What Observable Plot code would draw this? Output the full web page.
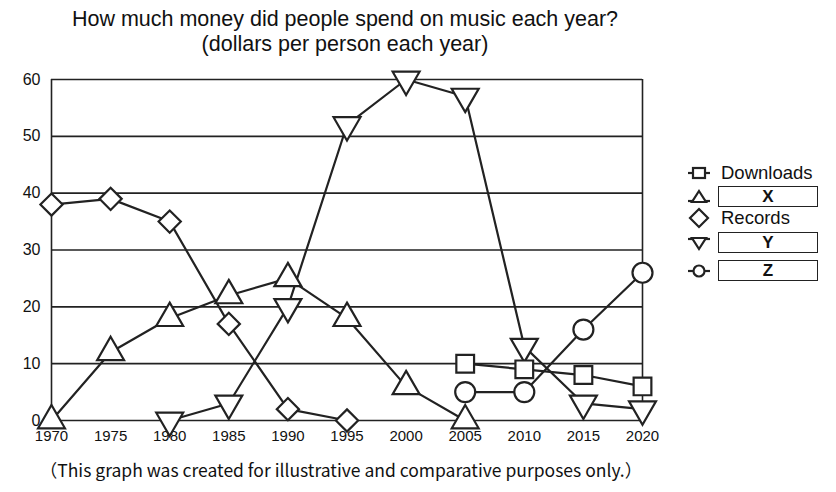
<!DOCTYPE html>
<html><head><meta charset="utf-8">
<script src="https://cdn.jsdelivr.net/npm/d3@7"></script>
<script src="https://cdn.jsdelivr.net/npm/@observablehq/plot@0.6"></script>
<style>
body{margin:0;background:#fff;font-family:"Liberation Sans",Arial,sans-serif;color:#111;}
#wrap{position:relative;width:836px;height:492px;overflow:hidden;}
#title{position:absolute;left:0;width:690px;top:7px;text-align:center;font-size:21.5px;line-height:25px;}
#chart{position:absolute;left:0;top:62px;}
#legend{position:absolute;left:686px;top:0;width:150px;height:300px;}
.lrow{position:absolute;left:0;height:22px;display:flex;align-items:center;}
.lrow svg{width:26px;height:22px;flex:none;}
.lbl{font-size:18.5px;margin-left:9px;}
.box{position:absolute;left:32px;width:98px;height:19px;border:1.6px solid #222;text-align:center;font-size:17px;line-height:19px;font-weight:bold;}
#caption{position:absolute;left:0;width:682px;top:457px;text-align:center;font-family:"Noto Sans CJK JP",sans-serif;font-size:17.5px;}
</style></head>
<body>
<div id="wrap">
  <div id="title">How much money did people spend on music each year?<br>(dollars per person each year)</div>
  <div id="chart"></div>
  <div id="legend"></div>
  <div id="caption">（This graph was created for illustrative and comparative purposes only.）</div>
</div>
<script>
const xTicks = [1970,1975,1980,1985,1990,1995,2000,2005,2010,2015,2020];
const yTicks = [0,10,20,30,40,50,60];

const seriesNames = ["Downloads","X","Records","Y","Z"];
const recordsYears = [1970,1975,1980,1985,1990,1995];
const recordsValues = [38,39,35,17,2,0];
const xYears = [1970,1975,1980,1985,1990,1995,2000,2005];
const xValues = [0,12,18,22,25,18,6,0];
const yYears = [1980,1985,1990,1995,2000,2005,2010,2015,2020];
const yValues = [0,3,20,52,60,57,13,3,2];
const downloadsYears = [2005,2010,2015,2020];
const downloadsValues = [10,9,8,6];
const zYears = [2005,2010,2015,2020];
const zValues = [5,5,16,26];

const rows = [];
function add(name, yrs, vals){ yrs.forEach((yr,i)=>rows.push({series:name, year:yr, value:vals[i]})); }
add("Records", recordsYears, recordsValues);
add("X", xYears, xValues);
add("Y", yYears, yValues);
add("Downloads", downloadsYears, downloadsValues);
add("Z", zYears, zValues);

const sqrt3 = Math.sqrt(3);
const triangleDown = {
  draw(context, size){
    const y = -Math.sqrt(size / (sqrt3 * 3));
    context.moveTo(0, -y * 2);
    context.lineTo(-sqrt3 * y, y);
    context.lineTo(sqrt3 * y, y);
    context.closePath();
  }
};
const symbolRange = [d3.symbolSquare, d3.symbolTriangle, d3.symbolDiamond2, triangleDown, d3.symbolCircle];

const chart = Plot.plot({
  width: 836, height: 390,
  marginLeft: 51, marginRight: 194, marginTop: 17, marginBottom: 32,
  style: {fontFamily: "'Liberation Sans', Arial, sans-serif", fontSize: "15px", color: "#111", background: "white"},
  x: {domain: [1970, 2020]},
  y: {domain: [0, 60]},
  symbol: {domain: seriesNames, range: symbolRange},
  marks: [
    Plot.gridY(yTicks, {stroke: "#222", strokeOpacity: 1, strokeWidth: 1.6}),
    Plot.ruleX([1970, 2020], {stroke: "#222", strokeWidth: 1.6}),
    Plot.axisY(yTicks, {tickSize: 0, tickPadding: 11, label: null, fontSize: 16}),
    Plot.axisX(xTicks, {tickSize: 0, tickPadding: 10, label: null, fontSize: 15, tickFormat: d => String(d)}),
    Plot.line(rows, {x: "year", y: "value", z: "series", stroke: "#222", strokeWidth: 2.2}),
    Plot.dot(rows, {x: "year", y: "value", symbol: "series", r: 10, fill: "white", stroke: "#222", strokeWidth: 2.2})
  ]
});
document.getElementById("chart").appendChild(chart);

// legend
const legend = document.getElementById("legend");
const legendTops = [162, 186, 207, 232, 260];
const boxed = {X:true, Y:true, Z:true};
const paths = {
  Downloads: '<line x1="2" y1="11" x2="24" y2="11"/><rect x="7" y="6" width="12" height="10"/>',
  X: '<line x1="2" y1="15" x2="24" y2="15"/><path d="M13 5 L20 16 L6 16 Z"/>',
  Records: '<path d="M13 2 L22 11 L13 20 L4 11 Z"/>',
  Y: '<line x1="2" y1="7" x2="24" y2="7"/><path d="M13 17 L20 6 L6 6 Z"/>',
  Z: '<line x1="2" y1="11" x2="24" y2="11"/><circle cx="13" cy="11" r="5.5"/>'
};
seriesNames.forEach((name, i) => {
  const row = document.createElement("div");
  row.className = "lrow";
  row.style.top = legendTops[i] + "px";
  row.style.width = "150px";
  row.innerHTML = `<svg viewBox="0 0 26 22"><g fill="white" stroke="#222" stroke-width="2.2">${paths[name]}</g></svg>` +
    (boxed[name] ? `<div class="box" style="top:0">${name}</div>` : `<span class="lbl">${name}</span>`);
  legend.appendChild(row);
});
</script>
</body></html>
